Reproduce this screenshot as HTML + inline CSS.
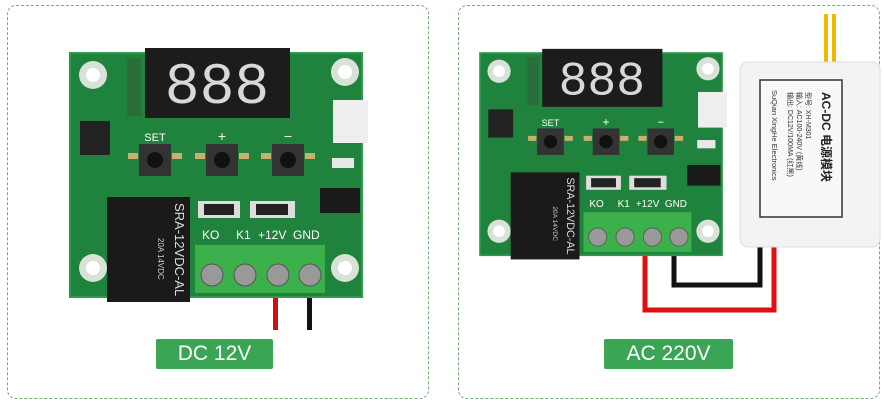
<!DOCTYPE html>
<html><head><meta charset="utf-8"><style>
body{margin:0;width:884px;height:407px;background:#fff;overflow:hidden;position:relative;font-family:"Liberation Sans","Noto Sans CJK SC",sans-serif}
.panel{position:absolute;border:1.5px dashed #7aa87a;border-radius:9px;box-sizing:border-box}
.lbl{position:absolute;background:#3aa655;color:#fff;font-size:21px;text-align:center;line-height:30px;border-radius:2px}
svg{position:absolute;left:0;top:0}
</style></head><body>
<div class="panel" style="left:7px;top:5px;width:422px;height:394px"></div>
<div class="panel" style="left:458px;top:5px;width:422px;height:394px"></div>

<svg width="884" height="407" viewBox="0 0 884 407">
<polyline points="645,250 645,310 774,310 774,237" fill="none" stroke="#e01010" stroke-width="5"/>
<polyline points="674,250 674,285 760,285 760,237" fill="none" stroke="#111" stroke-width="5"/>
<rect x="273" y="290" width="5" height="40" fill="#d01010"/>
<rect x="307" y="290" width="5" height="40" fill="#111"/>

<g transform="translate(70,53)">
<rect x="0" y="0" width="292" height="244" fill="#1f833d"/>
<rect x="0" y="0" width="292" height="244" fill="none" stroke="#2d9a4c" stroke-width="2"/>
<rect x="75" y="-5" width="145" height="70" fill="#1c1c1c"/>
<text x="147" y="50" font-family="Liberation Mono" font-size="58" fill="#d8d8d8" text-anchor="middle">888</text>
<g fill="#d8e2d8"><circle cx="23" cy="22" r="14"/><circle cx="275" cy="19" r="14"/><circle cx="23" cy="215" r="14"/><circle cx="275" cy="215" r="14"/></g>
<g fill="#fff"><circle cx="23" cy="22" r="7"/><circle cx="275" cy="19" r="7"/><circle cx="23" cy="215" r="7"/><circle cx="275" cy="215" r="7"/></g>
<rect x="57" y="5" width="14" height="58" fill="#2a6f3a"/>
<rect x="10" y="68" width="30" height="34" fill="#222"/>
<g fill="#333"><rect x="69" y="91" width="32" height="32"/><rect x="136" y="91" width="32" height="32"/><rect x="202" y="91" width="32" height="32"/></g>
<g fill="#111"><circle cx="85" cy="107" r="8"/><circle cx="152" cy="107" r="8"/><circle cx="218" cy="107" r="8"/></g>
<g fill="#c8b070"><rect x="58" y="100" width="10" height="6"/><rect x="102" y="100" width="10" height="6"/><rect x="125" y="100" width="10" height="6"/><rect x="169" y="100" width="10" height="6"/><rect x="191" y="100" width="10" height="6"/><rect x="235" y="100" width="10" height="6"/></g>
<text x="85" y="88" font-size="11" fill="#fff" text-anchor="middle">SET</text>
<text x="152" y="88" font-size="14" fill="#fff" text-anchor="middle">+</text>
<text x="218" y="88" font-size="14" fill="#fff" text-anchor="middle">−</text>
<rect x="263" y="47" width="35" height="43" fill="#eee"/>
<rect x="250" y="135" width="40" height="25" fill="#1a1a1a"/>
<rect x="262" y="105" width="22" height="10" fill="#e8e8e8"/>
<rect x="128" y="148" width="42" height="17" fill="#ddd"/><rect x="134" y="151" width="30" height="11" fill="#222"/>
<rect x="180" y="148" width="45" height="17" fill="#ddd"/><rect x="186" y="151" width="32" height="11" fill="#222"/>
<rect x="37" y="144" width="83" height="105" fill="#1a1a1a"/>
<text transform="translate(105,150) rotate(90)" font-size="13" fill="#ddd">SRA-12VDC-AL</text>
<text transform="translate(88,185) rotate(90)" font-size="8" fill="#ccc">20A 14VDC</text>
<rect x="125" y="192" width="130" height="48" fill="#3cb04a"/>
<g fill="#999" stroke="#555"><circle cx="142" cy="222" r="11"/><circle cx="175" cy="222" r="11"/><circle cx="208" cy="222" r="11"/><circle cx="240" cy="222" r="11"/></g>
<g font-size="12" fill="#fff"><text x="132" y="186">KO</text><text x="166" y="186">K1</text><text x="188" y="186">+12V</text><text x="223" y="186">GND</text></g>
</g>

<g transform="translate(480,53) scale(0.829)">
<rect x="0" y="0" width="292" height="244" fill="#1f833d"/>
<rect x="0" y="0" width="292" height="244" fill="none" stroke="#2d9a4c" stroke-width="2"/>
<rect x="75" y="-5" width="145" height="70" fill="#1c1c1c"/>
<text x="147" y="50" font-family="Liberation Mono" font-size="58" fill="#d8d8d8" text-anchor="middle">888</text>
<g fill="#d8e2d8"><circle cx="23" cy="22" r="14"/><circle cx="275" cy="19" r="14"/><circle cx="23" cy="215" r="14"/><circle cx="275" cy="215" r="14"/></g>
<g fill="#fff"><circle cx="23" cy="22" r="7"/><circle cx="275" cy="19" r="7"/><circle cx="23" cy="215" r="7"/><circle cx="275" cy="215" r="7"/></g>
<rect x="57" y="5" width="14" height="58" fill="#2a6f3a"/>
<rect x="10" y="68" width="30" height="34" fill="#222"/>
<g fill="#333"><rect x="69" y="91" width="32" height="32"/><rect x="136" y="91" width="32" height="32"/><rect x="202" y="91" width="32" height="32"/></g>
<g fill="#111"><circle cx="85" cy="107" r="8"/><circle cx="152" cy="107" r="8"/><circle cx="218" cy="107" r="8"/></g>
<g fill="#c8b070"><rect x="58" y="100" width="10" height="6"/><rect x="102" y="100" width="10" height="6"/><rect x="125" y="100" width="10" height="6"/><rect x="169" y="100" width="10" height="6"/><rect x="191" y="100" width="10" height="6"/><rect x="235" y="100" width="10" height="6"/></g>
<text x="85" y="88" font-size="11" fill="#fff" text-anchor="middle">SET</text>
<text x="152" y="88" font-size="14" fill="#fff" text-anchor="middle">+</text>
<text x="218" y="88" font-size="14" fill="#fff" text-anchor="middle">−</text>
<rect x="263" y="47" width="35" height="43" fill="#eee"/>
<rect x="250" y="135" width="40" height="25" fill="#1a1a1a"/>
<rect x="262" y="105" width="22" height="10" fill="#e8e8e8"/>
<rect x="128" y="148" width="42" height="17" fill="#ddd"/><rect x="134" y="151" width="30" height="11" fill="#222"/>
<rect x="180" y="148" width="45" height="17" fill="#ddd"/><rect x="186" y="151" width="32" height="11" fill="#222"/>
<rect x="37" y="144" width="83" height="105" fill="#1a1a1a"/>
<text transform="translate(105,150) rotate(90)" font-size="13" fill="#ddd">SRA-12VDC-AL</text>
<text transform="translate(88,185) rotate(90)" font-size="8" fill="#ccc">20A 14VDC</text>
<rect x="125" y="192" width="130" height="48" fill="#3cb04a"/>
<g fill="#999" stroke="#555"><circle cx="142" cy="222" r="11"/><circle cx="175" cy="222" r="11"/><circle cx="208" cy="222" r="11"/><circle cx="240" cy="222" r="11"/></g>
<g font-size="12" fill="#fff"><text x="132" y="186">KO</text><text x="166" y="186">K1</text><text x="188" y="186">+12V</text><text x="223" y="186">GND</text></g>
</g>

<rect x="824" y="14" width="4" height="50" fill="#f0b800"/>
<rect x="832" y="14" width="4" height="50" fill="#f0b800"/>
<rect x="740" y="62" width="140" height="185" rx="8" fill="#f3f3f3" stroke="#ddd"/>
<rect x="760" y="80" width="82" height="137" fill="#f8f8f8" stroke="#333" stroke-width="1.5"/>
<text transform="translate(822,92) rotate(90)" font-size="12" font-weight="bold" fill="#222">AC-DC 电源模块</text>
<text transform="translate(806,92) rotate(90)" font-size="7" fill="#333">型号: XH-M301</text>
<text transform="translate(797,92) rotate(90)" font-size="7" fill="#333">输入: AC100-240V (黄线)</text>
<text transform="translate(788,92) rotate(90)" font-size="7" fill="#333">输出: DC12V/100MA (红黑)</text>
<text transform="translate(772,90) rotate(90)" font-size="7.5" fill="#333">SuQian XingHe Electronics</text>
</svg>

<div class="lbl" style="left:156px;top:339px;width:117px;height:30px">DC 12V</div>
<div class="lbl" style="left:604px;top:339px;width:129px;height:30px">AC 220V</div>
</body></html>
